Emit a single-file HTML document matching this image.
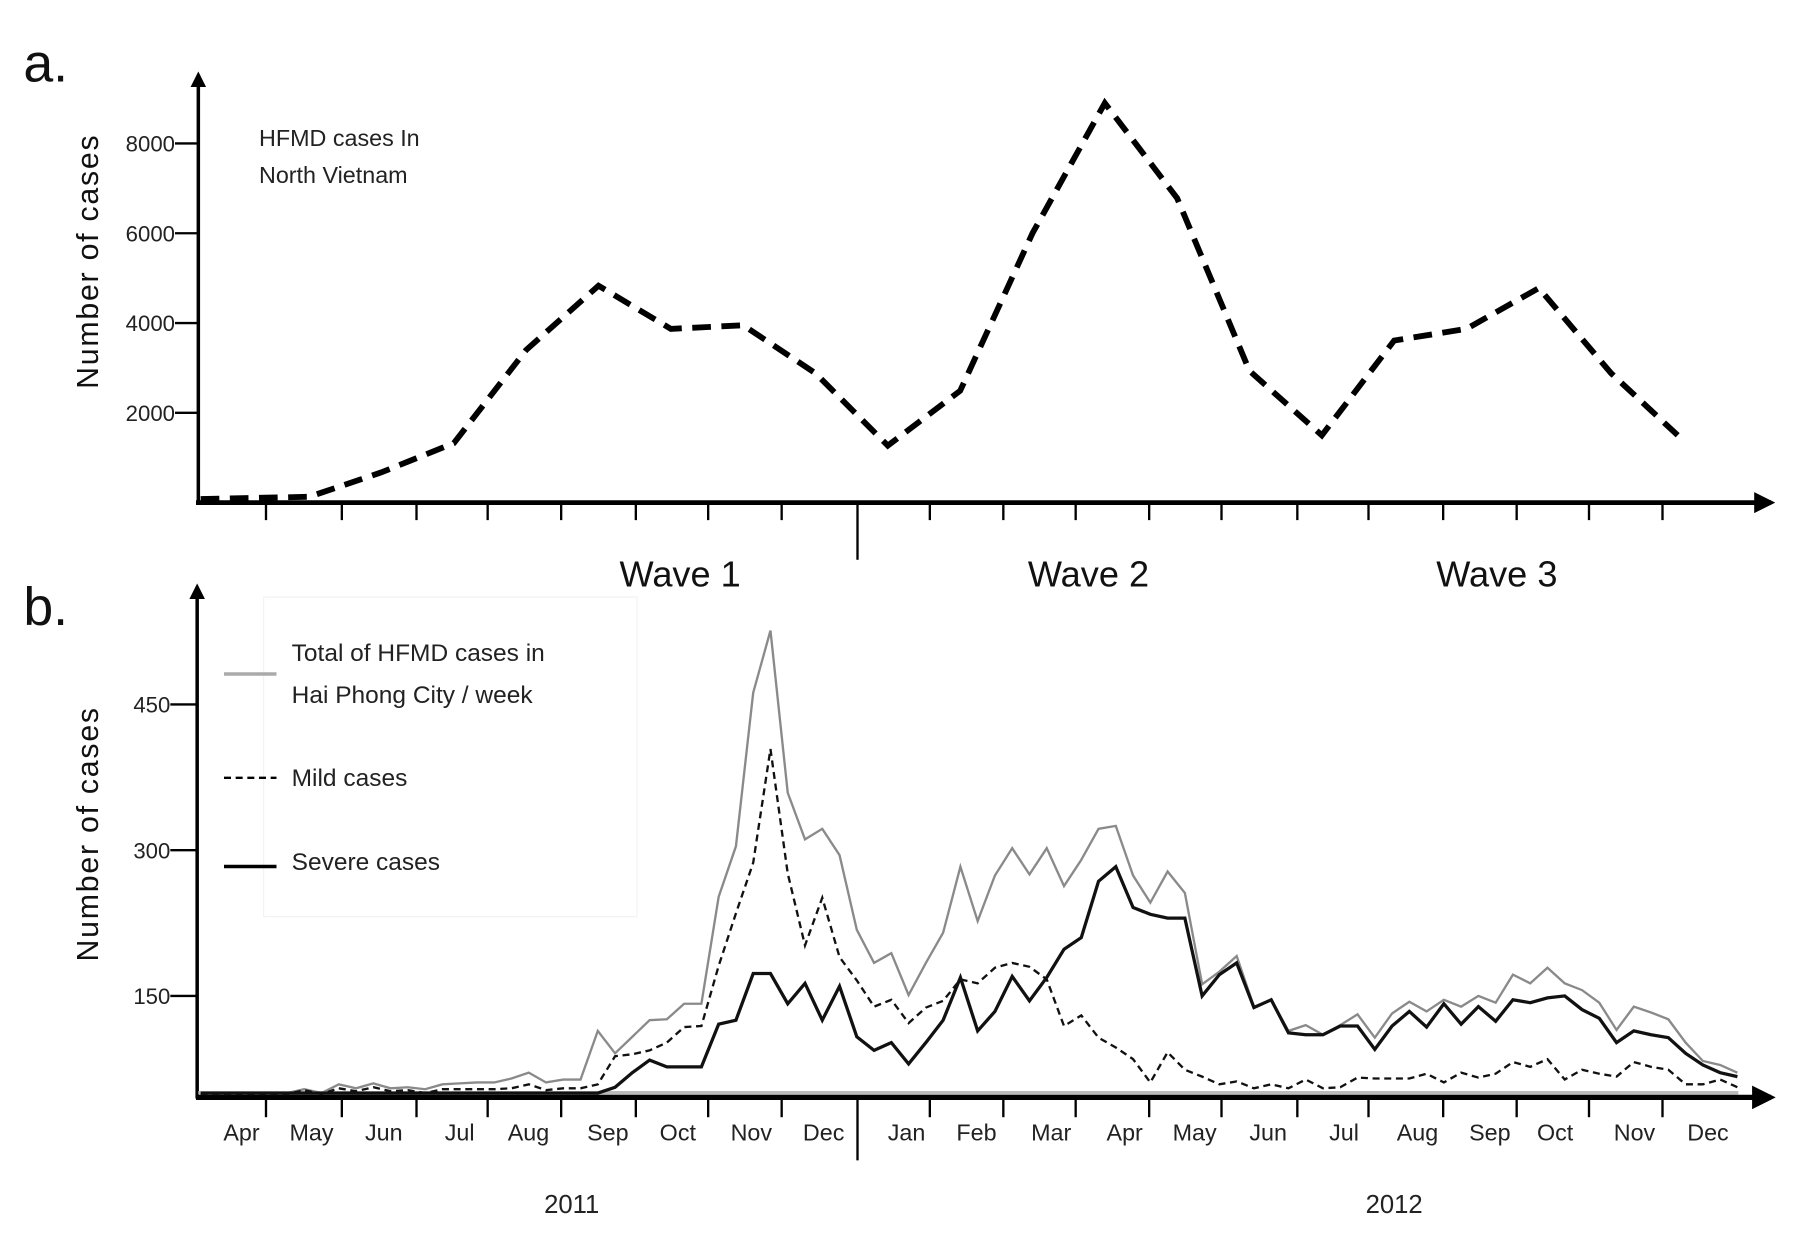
<!DOCTYPE html>
<html><head><meta charset="utf-8"><style>
html,body{margin:0;padding:0;background:#fff;}
svg{display:block;font-family:"Liberation Sans",sans-serif;}
</style></head><body>
<svg id="chart" width="1820" height="1235" viewBox="0 0 1560 1059" preserveAspectRatio="none" xmlns="http://www.w3.org/2000/svg">
<defs>
<marker id="arr" viewBox="0 0 10 10" refX="8" refY="5" markerWidth="4.5" markerHeight="4.5" orient="auto"><path d="M0,0 L10,5 L0,10 z" fill="#000"/></marker>
</defs>
<g id="pa"></g>
<g id="pb"></g>
</svg>
<script>
// Panel a: monthly cases in North Vietnam
const monthIdxA = [-1.5,0,1,2,3,4,5,6,7,8,9,10,11,12,13,14,15,16,17,18,19];
const casesA = [80,130,675,1325,3400,4830,3870,3950,2880,1270,2490,6000,8900,6780,2935,1500,3610,3870,4780,2880,1380];
const yTicksA = [2000,4000,6000,8000];
const waveLabels = ["Wave 1","Wave 2","Wave 3"];

// Panel b: weekly cases Hai Phong
const totalB = [50,50,50,50,50,50,54,50,59,55,60,55,56,54,59,60,61,61,65,71,61,64,64,114,91,108,125,126,142,142,252,304,462,526,359,311,322,295,218,184,194,151,184,215,283,227,274,302,275,302,263,290,322,325,274,246,278,256,162,175,191,139,146,114,120,110,120,131,107,132,144,134,146,139,150,143,172,163,179,163,156,143,115,139,133,126,102,83,79,71];
const severeB = [50,50,50,50,50,50,50,50,50,50,50,50,50,50,50,50,50,50,50,50,50,50,50,50,56,71,84,77,77,77,121,125,173,173,142,163,125,160,108,94,102,80,102,125,169,114,134,170,145,169,198,210,268,283,241,234,230,230,150,172,184,138,146,112,110,110,119,119,95,119,134,118,142,121,139,124,146,143,148,150,136,127,102,114,110,107,91,79,71,67];
const mildB = [49,49,49,49,49,49,53,49,55,52,56,52,53,50,54,54,54,54,55,59,53,55,55,59,88,90,94,102,118,119,181,235,287,404,276,202,251,190,166,139,146,122,138,145,167,163,179,184,180,167,119,130,107,97,85,61,92,74,67,59,62,55,59,55,64,55,56,66,65,65,65,70,61,71,66,70,82,77,85,64,74,70,67,82,77,74,59,59,64,56];
const yTicksB = [150,300,450];
const monthsB = ["Apr","May","Jun","Jul","Aug","Sep","Oct","Nov","Dec","Jan","Feb","Mar","Apr","May","Jun","Jul","Aug","Sep","Oct","Nov","Dec"];
const monthLabelX = [207,267,329,394,453,521,581,644,706,777,837,901,964,1024,1087,1152,1215,1277,1333,1401,1464];
const years = ["2011","2012"];

const NS="http://www.w3.org/2000/svg";
function mk(parent,tag,attrs,text){const e=document.createElementNS(NS,tag);for(const k in attrs)e.setAttribute(k,attrs[k]);if(text!==undefined)e.textContent=text;parent.appendChild(e);return e;}

const pa=document.getElementById('pa'), pb=document.getElementById('pb');
const xA=i=>265+62.0*i, yA=v=>431-v*0.0385;
const xB=i=>172+14.8*i, yB=v=>979-v*0.8333;
const tickXs=[228,293,357,418,481,545,607,670,735,797,860,922,985,1047,1112,1173,1237,1300,1362,1425];

// ---- Panel a ----
let t=mk(pa,'text',{x:20,y:70,'font-size':46,fill:'#111'},'a.');

let ax=mk(pa,'line',{x1:170,y1:431,x2:170,y2:64,stroke:'#000','stroke-width':3,'marker-end':'url(#arr)'});

ax=mk(pa,'line',{x1:168,y1:431,x2:1518,y2:431,stroke:'#000','stroke-width':4,'marker-end':'url(#arr)'});

yTicksA.forEach(v=>{
  const l=mk(pa,'line',{x1:150,x2:170,y1:yA(v),y2:yA(v),stroke:'#000','stroke-width':2});
  
  const tx=mk(pa,'text',{x:150,y:yA(v)+7,'font-size':19,'text-anchor':'end',fill:'#222'},String(v));
  
});
tickXs.forEach((x,k)=>{
  const l=mk(pa,'line',{x1:x,x2:x,y1:431,y2:k===8?480:446,stroke:'#000','stroke-width':2});
  
});
t=mk(pa,'text',{x:0,y:0,'font-size':26,'text-anchor':'middle',fill:'#111','letter-spacing':'1.5',transform:'translate(84,224) rotate(-90)'},'Number of cases');

t=mk(pa,'text',{x:222,y:125,'font-size':20,fill:'#222'},'HFMD cases In');

t=mk(pa,'text',{x:222,y:157,'font-size':20,fill:'#222'},'North Vietnam');

[583,933,1283].forEach((x,k)=>{
  const w=mk(pa,'text',{x:x,y:503,'font-size':31,'text-anchor':'middle',fill:'#111'},waveLabels[k]);
  
});
let d=monthIdxA.map((m,k)=>(k?'L':'M')+xA(m).toFixed(1)+','+yA(casesA[k]).toFixed(1)).join(' ');
let p=mk(pa,'path',{d:d,fill:'none',stroke:'#000','stroke-width':5,'stroke-dasharray':'16 9'});


// ---- Panel b ----
t=mk(pb,'text',{x:20,y:536,'font-size':46,fill:'#111'},'b.');

ax=mk(pb,'line',{x1:169,y1:942,x2:169,y2:503,stroke:'#000','stroke-width':3,'marker-end':'url(#arr)'});

mk(pb,'line',{x1:170,y1:937,x2:1490,y2:937,stroke:'#bbb','stroke-width':3});
ax=mk(pb,'line',{x1:168,y1:941,x2:1518,y2:941,stroke:'#000','stroke-width':4.5,'marker-end':'url(#arr)'});

yTicksB.forEach(v=>{
  const l=mk(pb,'line',{x1:146,x2:169,y1:yB(v),y2:yB(v),stroke:'#000','stroke-width':2});
  
  const tx=mk(pb,'text',{x:146,y:yB(v)+7,'font-size':19,'text-anchor':'end',fill:'#222'},String(v));
  
});
tickXs.forEach((x,k)=>{
  const l=mk(pb,'line',{x1:x,x2:x,y1:941,y2:k===8?995:958,stroke:'#000','stroke-width':2});
  
});
monthsB.forEach((m,k)=>{
  const tx=mk(pb,'text',{x:monthLabelX[k],y:978,'font-size':20,'text-anchor':'middle',fill:'#222'},m);
  
});
[490,1195].forEach((x,k)=>{
  const tx=mk(pb,'text',{x:x,y:1040,'font-size':22,'text-anchor':'middle',fill:'#222'},years[k]);
  
});
t=mk(pb,'text',{x:0,y:0,'font-size':26,'text-anchor':'middle',fill:'#111','letter-spacing':'1.5',transform:'translate(84,715) rotate(-90)'},'Number of cases');

// legend
mk(pb,'rect',{x:226,y:512,width:320,height:274,fill:'none',stroke:'#f2f2f2','stroke-width':1});
let lg=mk(pb,'line',{x1:192,x2:237,y1:578,y2:578,stroke:'#aaa','stroke-width':3});

t=mk(pb,'text',{x:250,y:567,'font-size':21,fill:'#222'},'Total of HFMD cases in');

t=mk(pb,'text',{x:250,y:603,'font-size':21,fill:'#222'},'Hai Phong City / week');

lg=mk(pb,'line',{x1:192,x2:237,y1:667,y2:667,stroke:'#000','stroke-width':2,'stroke-dasharray':'6 4'});

t=mk(pb,'text',{x:250,y:674,'font-size':21,fill:'#222'},'Mild cases');

lg=mk(pb,'line',{x1:192,x2:237,y1:743,y2:743,stroke:'#000','stroke-width':3});

t=mk(pb,'text',{x:250,y:746,'font-size':21,fill:'#222'},'Severe cases');


function series(arr){return arr.map((v,i)=>(i?'L':'M')+xB(i).toFixed(1)+','+yB(v).toFixed(1)).join(' ');}
p=mk(pb,'path',{d:series(totalB),fill:'none',stroke:'#8a8a8a','stroke-width':2});

p=mk(pb,'path',{d:series(mildB),fill:'none',stroke:'#111','stroke-width':2,'stroke-dasharray':'6 4'});

p=mk(pb,'path',{d:series(severeB),fill:'none',stroke:'#111','stroke-width':2.8});

</script>
</body></html>
